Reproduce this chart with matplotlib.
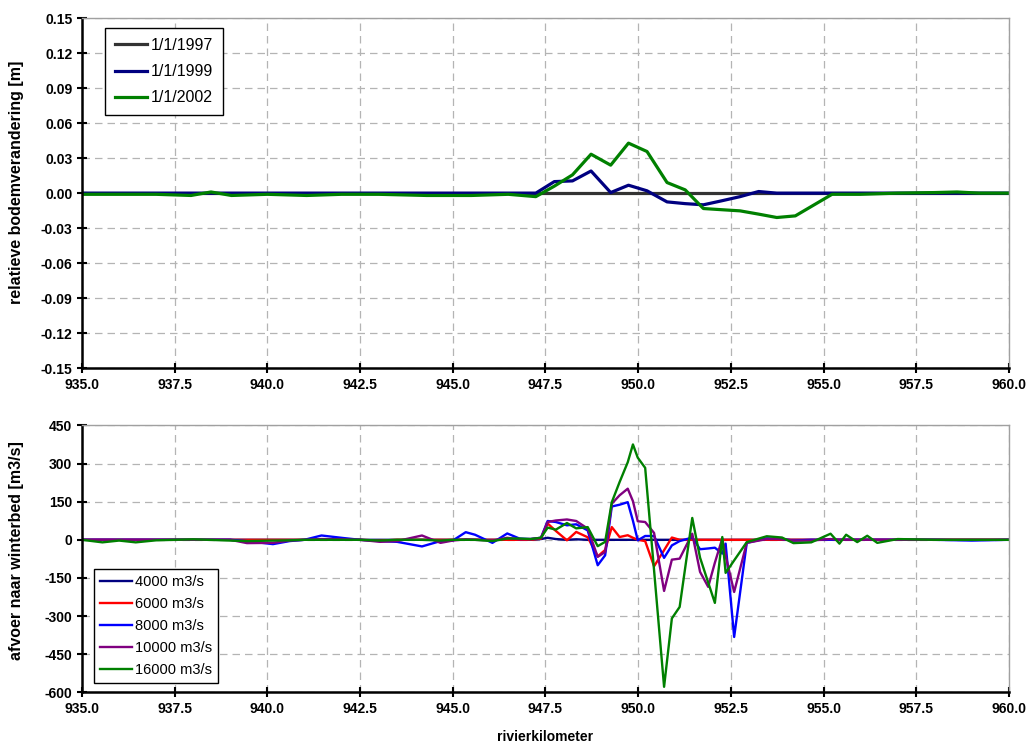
import matplotlib.pyplot as plt

plt.rcParams['font.family'] = ['Liberation Sans', 'DejaVu Sans']
plt.rcParams['axes.unicode_minus'] = False

# --- bed level change along the river (top panel) ---
km_bed = [935.0, 936.0, 937.0, 937.94, 938.48, 939.03, 940.0, 941.06, 942.0, 943.0,
          944.3, 945.5, 946.5, 947.24, 947.74, 948.23, 948.73, 949.26, 949.74, 950.24,
          950.78, 951.27, 951.76, 952.25, 952.75, 953.25, 953.74, 954.24, 955.23, 956.0,
          957.0, 958.0, 958.6, 959.2, 960.0]
bed_1997 = [0.0] * len(km_bed)
bed_1999 = [0, 0, 0, 0, 0, 0, 0, 0, 0, 0,
            0, 0, 0, 0, 0.0099, 0.0105, 0.019, 0.0005, 0.0068, 0.002,
            -0.0075, -0.009, -0.010, -0.0066, -0.003, 0.0014, 0, 0, 0, 0,
            0, 0, 0, 0, 0]
bed_2002 = [-0.001, -0.001, -0.001, -0.002, 0.001, -0.002, -0.001, -0.002, -0.001, -0.001,
            -0.002, -0.002, -0.001, -0.003, 0.006, 0.0157, 0.0334, 0.024, 0.0429, 0.0357,
            0.0091, 0.0028, -0.0132, -0.0142, -0.0152, -0.018, -0.0209, -0.0195, -0.001, -0.001,
            0.0, 0.0005, 0.001, 0.0, 0.0]
bed_labels = ['1/1/1997', '1/1/1999', '1/1/2002']

# --- discharge to the winter bed (bottom panel) ---
km_q = [935.0, 935.55, 936.0, 936.45, 937.0, 938.0, 939.0, 939.45, 940.15, 940.6,
        941.0, 941.46, 942.05, 942.5, 943.04, 943.5, 944.17, 944.67, 945.0, 945.35,
        945.6, 946.07, 946.47, 946.8, 947.1, 947.38, 947.56, 947.78, 948.08, 948.33,
        948.64, 948.91, 949.11, 949.29, 949.5, 949.72, 949.86, 949.99, 950.19, 950.43,
        950.7, 950.91, 951.12, 951.46, 951.67, 951.89, 952.07, 952.27, 952.36, 952.59,
        952.93, 953.47, 953.88, 954.19, 954.67, 955.19, 955.43, 955.61, 955.91, 956.18,
        956.45, 957.0, 958.0, 959.0, 960.0]
q4000 = [0, 0, 0, 0, 0, 0, 0, 0, 0, 0,
         0, 0, 0, 0, 0, 0, 0, 0, 0, 0,
         0, 0, 0, 0, 0, 3, 8, 3, 0, 2,
         0, 0, 0, 0, 0, 0, 0, 0, 0, 0,
         0, 0, 0, 0, 0, 0, 0, 0, 0, 0,
         0, 0, 0, 0, 0, 0, 0, 0, 0, 0,
         0, 0, 0, 0, 0]
q6000 = [0, 0, 0, 0, 0, 0, 0, 0, 0, 0,
         0, 0, 0, 0, -3, 0, 0, 0, 0, 0,
         0, 0, 0, 0, 0, 5, 64, 35, -2, 31,
         10, -65, -40, 50, 11, 18, 8, 0, -5, -104,
         -41, 9, 0, 0, 0, 0, 0, 0, 0, 0,
         0, 0, 0, 0, 0, 0, 0, 0, 0, 0,
         0, 0, 0, 0, 0]
q8000 = [0, 0, 0, 0, 0, 0, 0, -5, -17, -5,
         0, 17, 7, 0, -5, -8, -26, -5, -3, 30,
         20, -12, 25, 5, 3, 8, 74, 70, 57, 61,
         37, -100, -61, 131, 138, 148, 75, -2, 15, 15,
         -71, -22, -5, 9, -37, -34, -31, -54, -15, -382,
         -12, 6, 3, -3, 0, 0, 0, 0, 0, 0,
         0, 0, 0, -3, 0]
q10000 = [0, 0, 0, 0, 0, 0, 0, -13, -12, -3,
          0, 3, 2, 0, -8, -5, 17, -12, -3, 2,
          0, -3, 8, 2, 3, 8, 70, 76, 80, 74,
          44, -67, -48, 142, 175, 201, 152, 73, 70, 27,
          -201, -78, -74, 24, -126, -185, -90, 5, -63, -205,
          -12, 3, 3, -3, -3, 3, 0, 0, 0, 0,
          0, 0, 0, 0, 0]
q16000 = [0, -10, -3, -10, -2, 2, -3, -5, -3, -2,
          0, 0, 0, 0, -3, 0, 0, -3, 0, 0,
          0, -5, 5, 5, 3, 8, 48, 40, 66, 45,
          50, -25, -8, 148, 227, 305, 375, 323, 283, -120,
          -578, -309, -264, 86, -70, -168, -248, 11, -130, -81,
          -9, 14, 9, -13, -10, 24, -15, 20, -9, 16,
          -12, 3, 0, 0, 0]
q_labels = ['4000 m3/s', '6000 m3/s', '8000 m3/s', '10000 m3/s', '16000 m3/s']

x_ticks = [935.0, 937.5, 940.0, 942.5, 945.0, 947.5, 950.0, 952.5, 955.0, 957.5, 960.0]
bed_ticks = [-0.15, -0.12, -0.09, -0.06, -0.03, 0.0, 0.03, 0.06, 0.09, 0.12, 0.15]
q_ticks = [-600, -450, -300, -150, 0, 150, 300, 450]


def style_axes(ax):
    # excel-like frame: black left/bottom, grey top/right, dashed grid
    ax.grid(True, color='#b4b4b4', linestyle=(0, (6, 4)), linewidth=0.9)
    ax.set_axisbelow(True)
    for side in ['left', 'bottom']:
        ax.spines[side].set_color('black')
        ax.spines[side].set_linewidth(1.8)
    for side in ['top', 'right']:
        ax.spines[side].set_color('#a0a0a0')
        ax.spines[side].set_linewidth(1.0)
    ax.tick_params(direction='inout', length=7, width=1.5, labelsize=10)
    for lab in ax.get_xticklabels() + ax.get_yticklabels():
        lab.set_fontweight('bold')


fig = plt.figure(figsize=(10.30, 7.43), dpi=100)
ax1 = fig.add_axes([0.0796, 0.5047, 0.8999, 0.4707])
ax2 = fig.add_axes([0.0796, 0.0681, 0.8999, 0.3594])

# top panel
ax1.plot(km_bed, bed_1997, color='#333333', linewidth=2.3, label=bed_labels[0])
ax1.plot(km_bed, bed_1999, color='#000080', linewidth=2.3, label=bed_labels[1])
ax1.plot(km_bed, bed_2002, color='#008000', linewidth=2.3, label=bed_labels[2])
ax1.set_xlim(935, 960)
ax1.set_ylim(-0.15, 0.15)
ax1.set_xticks(x_ticks)
ax1.set_xticklabels(['%.1f' % v for v in x_ticks])
ax1.set_yticks(bed_ticks)
ax1.set_yticklabels(['%.2f' % v for v in bed_ticks])
ax1.set_ylabel('relatieve bodemverandering [m]', fontsize=11.5, fontweight='bold')
ax1.yaxis.set_label_coords(-0.063, 0.53)
style_axes(ax1)
leg1 = ax1.legend(loc='upper left', bbox_to_anchor=(0.025, 0.971), borderaxespad=0,
                  fontsize=11.5, fancybox=False, framealpha=1, edgecolor='black',
                  handlelength=2.0, handletextpad=0.25, labelspacing=0.7, borderpad=0.6)
leg1.get_frame().set_linewidth(1.0)

# bottom panel
q_colors = ['#000080', '#ff0000', '#0000ff', '#800080', '#008000']
for vals, col, lab in zip([q4000, q6000, q8000, q10000, q16000], q_colors, q_labels):
    ax2.plot(km_q, vals, color=col, linewidth=1.7, label=lab)
ax2.set_xlim(935, 960)
ax2.set_ylim(-600, 450)
ax2.set_xticks(x_ticks)
ax2.set_xticklabels(['%.1f' % v for v in x_ticks])
ax2.set_yticks(q_ticks)
ax2.set_ylabel('afvoer naar winterbed [m3/s]', fontsize=11.5, fontweight='bold')
ax2.yaxis.set_label_coords(-0.063, 0.53)
ax2.set_xlabel('rivierkilometer', fontsize=10, fontweight='bold', labelpad=10)
style_axes(ax2)
leg2 = ax2.legend(loc='lower left', bbox_to_anchor=(0.013, 0.037), borderaxespad=0,
                  fontsize=10.5, fancybox=False, framealpha=1, edgecolor='black',
                  handlelength=2.2, handletextpad=0.2, labelspacing=0.55, borderpad=0.4)
leg2.get_frame().set_linewidth(1.0)

fig.savefig('out.png', dpi=100)
